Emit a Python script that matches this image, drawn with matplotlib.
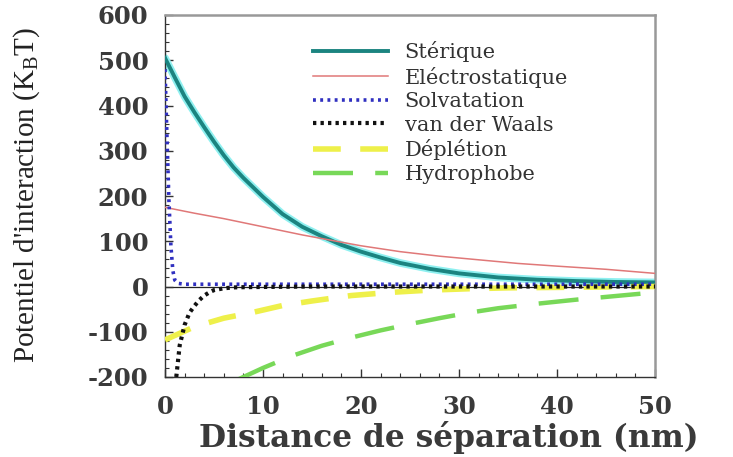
import matplotlib
matplotlib.use("Agg")
import matplotlib.pyplot as plt
from matplotlib.ticker import MultipleLocator

plt.rcParams["axes.unicode_minus"] = False

# ---- data ----
x_ster = [0, 1, 2, 3, 4, 5, 6, 7, 8, 10, 12, 14, 16, 18, 20, 22, 24, 27, 30, 34, 38, 42, 46, 50]
y_ster = [505, 462, 420, 385, 352, 320, 290, 263, 240, 198, 160, 132, 111, 92, 77, 64, 52, 39, 29, 20, 15, 12, 10, 9]

x_elec = [0, 3, 6, 10, 14, 17, 20, 24, 28, 32, 36, 40, 45, 50]
y_elec = [175, 162, 150, 132, 114, 102, 90, 77, 67, 59, 51, 45, 38, 29]

x_solv = [0, 0.2, 0.4, 0.6, 0.8, 1.0, 1.3, 2, 5, 10, 20, 30, 40, 50]
y_solv = [480, 330, 190, 90, 35, 14, 7, 5, 5, 5, 5, 5, 5, 5]

x_vdw = [1.15, 1.5, 2, 2.5, 3, 3.5, 4, 4.6, 5, 6, 7, 8, 10, 15, 20, 30, 40, 50]
y_vdw = [-200, -130, -85, -58, -43, -30, -20, -12, -8, -4, -2, -1.5, -1, 0, 0, 0, 0, 0]

x_depl = [0, 3, 6, 9, 12, 15, 19, 23, 27, 31, 35, 40, 45, 50]
y_depl = [-118, -89, -70, -57, -42, -32, -20, -13, -8, -5, -3, -2, -1, 0]

x_hydro = [7.5, 10, 13, 16, 19, 22, 25, 28, 31, 34, 38, 42, 46, 50]
y_hydro = [-205, -180, -153, -131, -113, -97, -83, -70, -58, -48, -38, -29, -21, -13]

labels = ["Stérique", "Eléctrostatique", "Solvatation", "van der Waals", "Déplétion", "Hydrophobe"]
x_ticks = [0, 10, 20, 30, 40, 50]
y_ticks = [-200, -100, 0, 100, 200, 300, 400, 500, 600]

fig = plt.figure(figsize=(7.33, 4.57), dpi=100)
ax = fig.add_axes([165/733, 1-377/457, (655-165)/733, (377-15)/457])

ax.axhline(0, color="#222222", lw=0.9, zorder=1)

ax.plot(x_ster, y_ster, color="#8ff0f0", lw=5.5, solid_capstyle="round", zorder=2)
l1, = ax.plot(x_ster, y_ster, color="#1b8480", lw=2.8, zorder=3)
l2, = ax.plot(x_elec, y_elec, color="#e07878", lw=1.1, zorder=3)
l3, = ax.plot(x_solv, y_solv, color="#3030c0", lw=2.6, ls=(0, (0.8, 1.2)), zorder=4)
l4, = ax.plot(x_vdw, y_vdw, color="#111111", lw=3.0, ls=(0, (0.8, 1.0)), zorder=4)
l5, = ax.plot(x_depl, y_depl, color="#eef04a", lw=4.0, ls=(0, (5, 3.5)), zorder=3)
l6, = ax.plot(x_hydro, y_hydro, color="#78d858", lw=3.2, ls=(0, (9, 5)), zorder=3)

ax.set_xlim(0, 50)
ax.set_ylim(-200, 600)
ax.set_xticks(x_ticks)
ax.set_yticks(y_ticks)
ax.xaxis.set_minor_locator(MultipleLocator(2))
ax.yaxis.set_minor_locator(MultipleLocator(20))
ax.tick_params(which="both", direction="in", colors="#333333", labelcolor="#3a3a3a")
ax.tick_params(which="major", length=6, width=1)
ax.tick_params(which="minor", length=3, width=0.8)
ax.tick_params(axis="y", pad=12)
ax.tick_params(axis="x", pad=13)
for lab in ax.get_xticklabels() + ax.get_yticklabels():
    lab.set_fontfamily("DejaVu Serif")
    lab.set_fontweight("bold")
    lab.set_fontsize(17.5)

for s in ["top", "right"]:
    ax.spines[s].set_color("#999999")
    ax.spines[s].set_linewidth(1.8)
for s in ["left", "bottom"]:
    ax.spines[s].set_color("#333333")
    ax.spines[s].set_linewidth(1.0)

ax.set_xlabel("Distance de séparation (nm)", family="DejaVu Serif", fontweight="bold",
              fontsize=22.5, color="#3a3a3a")
ax.xaxis.set_label_coords((449-165)/490, (377-421)/362)
ax.set_ylabel(r"Potentiel d'interaction (K$_\mathregular{B}$T)", family="Liberation Serif",
              fontsize=21, color="#222222")
ax.yaxis.set_label_coords((42-165)/490, (377-195)/362)

leg = fig.legend([l1, l2, l3, l4, l5, l6], labels, loc="upper left",
                 bbox_to_anchor=(313/733, 1-41/457), frameon=False,
                 prop={"family": "DejaVu Serif", "size": 15},
                 handlelength=3.6, handletextpad=0.8, labelspacing=0.22,
                 borderpad=0, borderaxespad=0)
for t in leg.get_texts():
    t.set_color("#333333")

fig.savefig("out.png", dpi=100)
